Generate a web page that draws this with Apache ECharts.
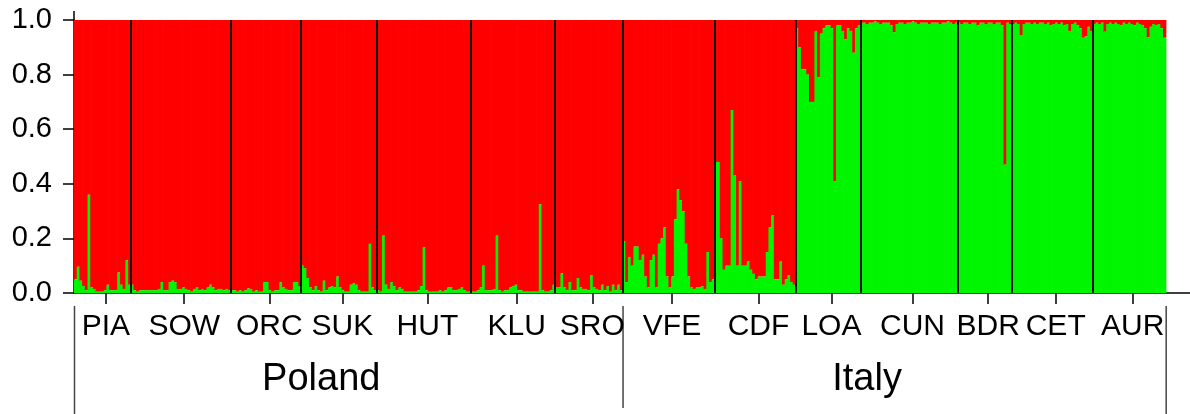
<!DOCTYPE html>
<html><head><meta charset="utf-8">
<script src="https://cdn.jsdelivr.net/npm/echarts@6/dist/echarts.min.js"></script>
<style>html,body{margin:0;padding:0;background:#fff}#c{width:1190px;height:414px}</style>
</head><body><div id="c"></div>
<script>
// Population codes (left to right)
const populations = ['PIA','SOW','ORC','SUK','HUT','KLU','SRO','VFE','CDF','LOA','CUN','BDR','CET','AUR'];
// Regions and how many populations each spans
const regions = ['Poland','Italy'];
const regionPopCounts = [7, 7];
// Y tick labels
const yTickValues = [0, 0.2, 0.4, 0.6, 0.8, 1.0];

// Green-cluster membership (Q) per individual; red cluster = 1 - green
const PIA = [0.05,0.096,0.045,0.025,0.01,0.36,0.02,0.015,0.005,0.005,0.005,0.01,0.03,0.01,0.01,0.01,0.075,0.03,0.015,0.12,0.03];
const SOW = [0.03,0.01,0.005,0.01,0.01,0.01,0.01,0.01,0.01,0.01,0.015,0.04,0.01,0.01,0.04,0.045,0.04,0.015,0.015,0.02,0.015,0.01,0.005,0.015,0.02,0.01,0.015,0.01,0.02,0.03,0.02,0.01,0.015,0.015,0.01,0.015,0.01];
const ORC = [0.01,0.01,0.005,0.01,0.005,0.01,0.017,0.015,0.005,0.01,0.005,0.005,0.04,0.04,0.01,0.005,0.01,0.01,0.04,0.02,0.015,0.01,0.01,0.04,0.04,0.025];
const SUK = [0.1,0.09,0.055,0.02,0.01,0.025,0.01,0.005,0.045,0.01,0.02,0.025,0.02,0.06,0.02,0.01,0.005,0.005,0.03,0.035,0.03,0.01,0.005,0.005,0.005,0.18,0.02,0.01];
const HUT = [0.01,0.005,0.21,0.03,0.015,0.04,0.025,0.01,0.02,0.015,0.005,0.005,0.005,0.005,0.005,0.01,0.025,0.167,0.01,0.005,0.005,0.005,0.005,0.01,0.005,0.01,0.02,0.02,0.01,0.01,0.015,0.02,0.01,0.005,0.005];
const KLU = [0.005,0.005,0.01,0.02,0.1,0.01,0.01,0.01,0.015,0.21,0.01,0.005,0.01,0.01,0.02,0.025,0.03,0.01,0.01,0.005,0.005,0.005,0.005,0.005,0.005,0.325,0.01,0.005,0.005,0.01,0.03];
const SRO = [0.02,0.02,0.072,0.02,0.01,0.04,0.01,0.01,0.055,0.02,0.015,0.015,0.01,0.066,0.02,0.015,0.01,0.03,0.01,0.025,0.005,0.03,0.01,0.03,0.01];
const VFE = [0.19,0.04,0.13,0.1,0.17,0.17,0.12,0.14,0.06,0.02,0.12,0.14,0.02,0.18,0.2,0.24,0.06,0.02,0.06,0.27,0.38,0.34,0.3,0.18,0.06,0.02,0.015,0.02,0.02,0.025,0.015,0.15,0.04,0.05];
const CDF = [0.48,0.48,0.2,0.085,0.1,0.1,0.67,0.43,0.1,0.41,0.1,0.1,0.115,0.085,0.07,0.05,0.06,0.06,0.06,0.15,0.24,0.285,0.05,0.05,0.115,0.03,0.05,0.066,0.04,0.03];
const LOA = [0.97,0.9,0.82,0.82,0.8,0.7,0.7,0.96,0.79,0.95,0.97,0.98,0.98,0.97,0.41,0.98,0.98,0.96,0.93,0.97,0.96,0.88,0.97,0.98];
const CUN = [0.99,0.99,0.985,0.99,0.99,0.995,0.99,0.985,0.99,0.99,0.99,0.98,0.955,0.985,0.99,0.99,0.985,0.99,0.99,0.995,0.99,0.985,0.99,0.99,0.99,0.985,0.99,0.99,0.99,0.985,0.99,0.99,0.995,0.99,0.985,0.99];
const BDR = [0.99,0.985,0.99,0.99,0.985,0.99,0.99,0.98,0.99,0.99,0.985,0.99,0.99,0.985,0.99,0.99,0.98,0.47,0.99,0.985];
const CET = [0.985,0.99,0.985,0.945,0.985,0.99,0.99,0.985,0.99,0.985,0.99,0.99,0.985,0.99,0.98,0.985,0.99,0.985,0.99,0.98,0.985,0.96,0.985,0.99,0.98,0.97,0.935,0.94,0.975,0.96];
const AUR = [0.985,0.99,0.985,0.99,0.957,0.985,0.99,0.985,0.99,0.985,0.98,0.99,0.985,0.99,0.985,0.98,0.99,0.985,0.98,0.97,0.936,0.975,0.985,0.98,0.985,0.97,0.935];

const greenByPop = [PIA,SOW,ORC,SUK,HUT,KLU,SRO,VFE,CDF,LOA,CUN,BDR,CET,AUR];

const RED = '#ff0000', GREEN = '#00f500';
const FONT = '"Liberation Sans", Arial, Helvetica, sans-serif';

// Build individual-level data and population boundaries
const individuals = [];
const popStart = [];
let idx = 0;
greenByPop.forEach(arr => { popStart.push(idx); arr.forEach(g => { individuals.push([idx, g]); idx++; }); });
const TOTAL = idx;
const boundaries = popStart.slice(1);
const TICK_SHIFT = 1.3;
const tickVals = populations.map((p, k) => popStart[k] + greenByPop[k].length / 2 + TICK_SHIFT);
const regionStart = []; let pc = 0;
regionPopCounts.forEach(n => { regionStart.push(popStart[pc]); pc += n; });
const regionEdges = regionStart.concat([TOTAL]);

const chart = echarts.init(document.getElementById('c'), null, {renderer: 'canvas'});
const option = {
  animation: false,
  backgroundColor: '#ffffff',
  grid: {left: 74, right: 0, top: 20, bottom: 121, containLabel: false},
  xAxis: {
    type: 'value', min: 0, max: TOTAL + 9,
    splitLine: {show: false},
    axisLine: {show: true, onZero: false, lineStyle: {color: '#000', width: 1.5}},
    axisTick: {show: true, customValues: tickVals, length: 11, lineStyle: {color: '#000', width: 1.5}},
    axisLabel: {
      show: true, customValues: tickVals, margin: 19, fontSize: 30, color: '#000', fontFamily: FONT,
      formatter: v => { const k = tickVals.findIndex(t => Math.abs(t - v) < 1e-6); return k >= 0 ? populations[k] : ''; }
    }
  },
  yAxis: {
    type: 'value', min: 0, max: 1, interval: 0.2,
    splitLine: {show: false},
    axisLine: {show: true, lineStyle: {color: '#000', width: 1.5}},
    axisTick: {show: true, length: 11, lineStyle: {color: '#000', width: 1.5}},
    axisLabel: {margin: 22, fontSize: 29, color: '#000', fontFamily: FONT, formatter: v => v.toFixed(1)}
  },
  series: [{
    type: 'custom',
    data: individuals,
    renderItem: function (params, api) {
      const i = api.value(0), g = api.value(1);
      const p0 = api.coord([i, 0]);
      const p1 = api.coord([i + 1, 1]);
      const pg = api.coord([i, g]);
      const x = p0[0], w = p1[0] - p0[0] + 0.7;
      return {type: 'group', children: [
        {type: 'rect', shape: {x: x, y: p1[1], width: w, height: pg[1] - p1[1]}, style: {fill: RED}},
        {type: 'rect', shape: {x: x, y: pg[1], width: w, height: p0[1] - pg[1]}, style: {fill: GREEN}}
      ]};
    },
    markLine: {
      silent: true, symbol: ['none', 'none'], label: {show: false},
      lineStyle: {color: '#111', width: 2, type: 'solid'},
      data: boundaries.map(b => ({xAxis: b}))
    }
  }]
};
chart.setOption(option);

// Region brackets and labels, placed through the x scale
const yTop = chart.convertToPixel({yAxisIndex: 0}, 1);
const graphics = [
  {type: 'line', shape: {x1: 74, y1: yTop - 9, x2: 74, y2: yTop}, style: {stroke: '#000', lineWidth: 1.5}}
];
regionEdges.forEach((v, k) => {
  const px = chart.convertToPixel({xAxisIndex: 0}, v);
  const bottom = (k === 1) ? 408 : 414;
  graphics.push({type: 'line', shape: {x1: px + 0.5, y1: 306, x2: px + 0.5, y2: bottom}, style: {stroke: '#444', lineWidth: 1.5}});
});
regions.forEach((r, k) => {
  const mid = (regionEdges[k] + regionEdges[k + 1]) / 2 - 10;
  const px = chart.convertToPixel({xAxisIndex: 0}, mid);
  graphics.push({type: 'text', x: px, y: 380, style: {text: r, fontSize: 38, fill: '#000', font: '38px ' + FONT, textAlign: 'center', textVerticalAlign: 'middle'}});
});
chart.setOption({graphic: graphics});
</script>
</body></html>
